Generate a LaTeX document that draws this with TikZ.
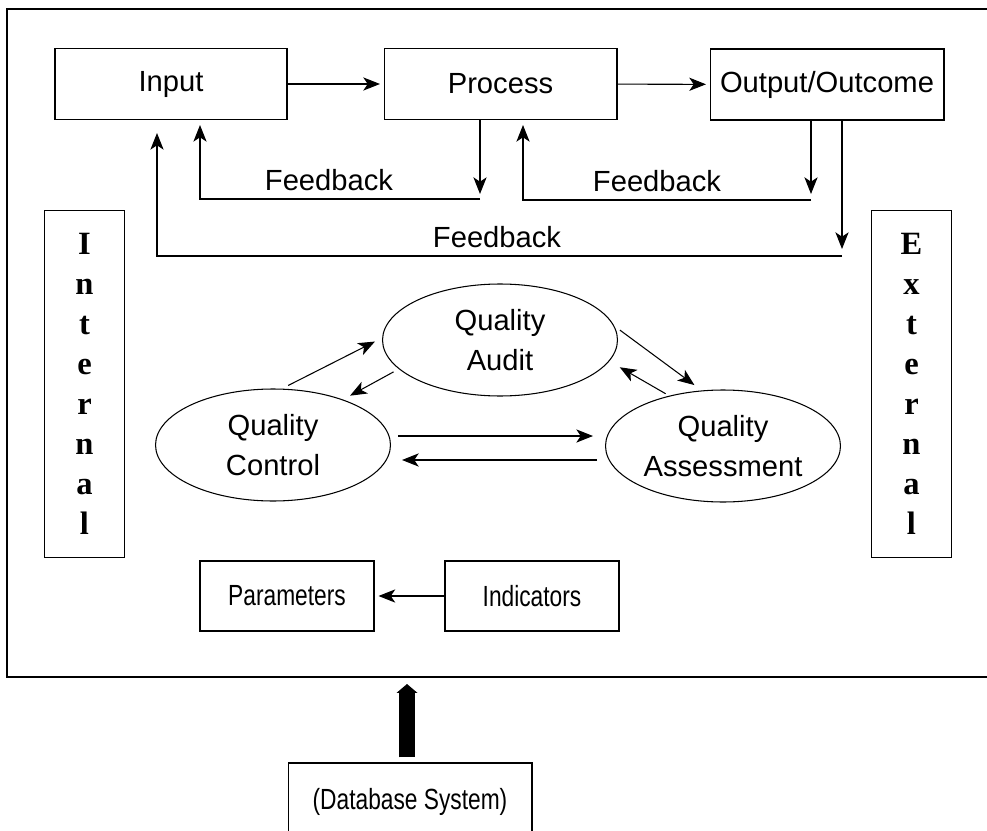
\documentclass[tikz,border=0pt]{standalone}
\usepackage{fontspec}
\setmainfont{Liberation Sans}
\newfontfamily\letterfont{Liberation Serif}
\newfontfamily\narrowfont{Liberation Sans}[FakeStretch=0.78]
\usetikzlibrary{arrows.meta,shapes.geometric}

\begin{document}
\begin{tikzpicture}[x=0.02cm, y=-0.02cm, >={Stealth[length=9.5pt,width=7.5pt,inset=2.5pt]},
  every node/.style={font=\fontsize{16.6}{22.8}\selectfont, inner sep=0pt},
  box/.style={draw, line width=0.6pt, minimum height=1.42cm},
  lowbox/.style={box, minimum height=1.4cm, font=\narrowfont\fontsize{16.6}{22.8}\selectfont},
  qual/.style={draw, ellipse, line width=0.6pt, minimum width=4.7cm, minimum height=2.24cm, align=center},
  sidebox/.style={draw, line width=0.6pt, minimum width=1.6cm, minimum height=6.96cm, align=center,
    font=\letterfont\bfseries\fontsize{18.5}{22.8}\selectfont},
  conn/.style={line width=0.6pt}]

\useasboundingbox (0,0) rectangle (987,831);
\clip (0,0) rectangle (987,831);

% outer frame
\draw [line width=1.7pt] (7,9) rectangle (1000,677);

% top row
\node[box, minimum width=4.64cm] (input) at (171,84) {Input};
\node[box, minimum width=4.66cm] (process) at (500.5,84) {Process};
\node[box, minimum width=4.68cm] (output) at (827,84.5) {Output/Outcome};

\draw[conn,->,shorten >=2pt] (input) -- (process);
\draw[conn,->,shorten >=2pt] (process) -- (output);

% feedback loops
\coordinate (fbA1) at (480,194);
\coordinate (fbA2) at (480,199);
\coordinate (fbA3) at (200,125);
\draw[conn,->] (process.south -| fbA1) -- (fbA1);
\draw[conn,->] (fbA2) -| (fbA3);
\node (fbtextA) at (329,180) {Feedback};

\coordinate (fbB1) at (811,194);
\coordinate (fbB2) at (811,200);
\coordinate (fbB3) at (523,125);
\draw[conn,->] (output.south -| fbB1) -- (fbB1);
\draw[conn,->] (fbB2) -| (fbB3);
\node (fbtextB) at (657,181) {Feedback};

\coordinate (fbC1) at (842,249);
\coordinate (fbC2) at (842,256);
\coordinate (fbC3) at (157,133);
\draw[conn,->] (output.south -| fbC1) -- (fbC1);
\draw[conn,->] (fbC2) -| (fbC3);
\node (fbtextC) at (497,237) {Feedback};

% side boxes
\node[sidebox] (internal) at (84.5,384) {I\\n\\t\\e\\r\\n\\a\\l};
\node[sidebox] (external) at (911.5,384) {E\\x\\t\\e\\r\\n\\a\\l};

% quality cycle
\node[qual] (audit) at (500,340) {Quality\\Audit};
\node[qual] (control) at (273,445) {Quality\\Control};
\node[qual] (assess) at (723,446) {Quality\\Assessment};

\draw[conn,->,shorten <=0.14cm,shorten >=0.16cm] (control.81) -- (audit.179);
\draw[conn,->,shorten <=0.12cm,shorten >=0.16cm] (audit.196) -- (control.33);
\draw[conn,->,shorten <=0.14cm,shorten >=0.18cm] (audit.7) -- (assess.111);
\draw[conn,->,shorten <=0.08cm,shorten >=0.24cm] (assess.137) -- (audit.-11);
\draw[conn,->,shorten <=0.14cm,shorten >=0.24cm] ([yshift=0.18cm]control.east) -- ([yshift=0.18cm]control.east -| assess.west);
\draw[conn,->,shorten <=0.16cm,shorten >=0.22cm] ([yshift=-0.28cm]assess.west) -- ([yshift=-0.28cm]assess.west -| control.east);

% bottom row
\node[lowbox, minimum width=3.48cm] (param) at (287,596) {Parameters};
\node[lowbox, minimum width=3.48cm] (indic) at (532,596) {Indicators};
\draw[conn,->,shorten >=0.08cm] (indic) -- (param);

% database
\node[lowbox, minimum width=4.88cm, minimum height=1.56cm] (dbase) at (410,802) {(Database System)};
\coordinate (dbtip) at (407,684);
\draw[line width=9pt, -{Triangle[length=5pt,width=11.5pt]}, shorten <=0.1cm] (dbase.north -| dbtip) -- (dbtip);

\end{tikzpicture}
\end{document}
